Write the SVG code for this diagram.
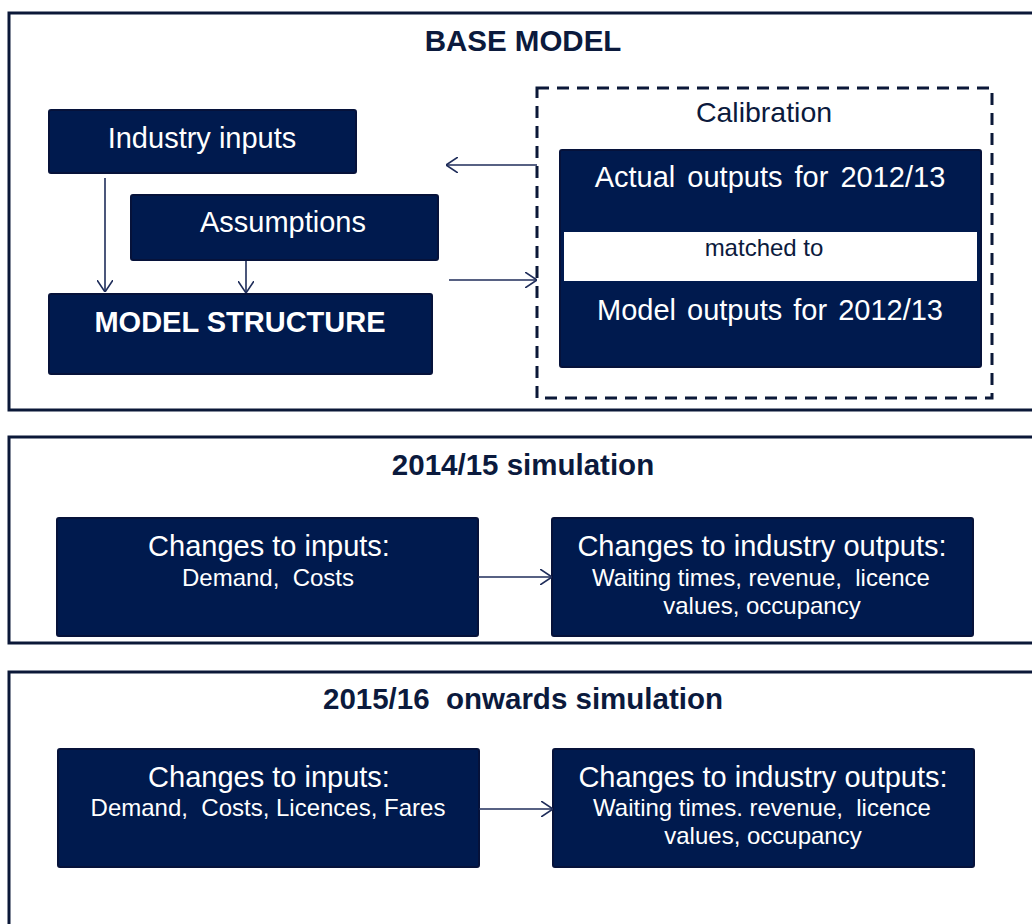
<svg xmlns="http://www.w3.org/2000/svg" width="1032" height="924" viewBox="0 0 1032 924" xml:space="preserve">
<defs>
<style>
.panel{fill:#fff;stroke:#0b1838;stroke-width:3}
.node{fill:#001a4e;stroke:#06123a;stroke-width:2}
.t{font-family:"Liberation Sans",Arial,sans-serif;text-anchor:middle;white-space:pre}
.title{font-size:29.5px;font-weight:bold;fill:#0b1a3d}
.w{fill:#fff;font-size:29px}
.ws{fill:#fff;font-size:24px}
.conn{stroke:#1f2d5a;stroke-width:1.6;fill:none}
</style>
<marker id="arr" viewBox="0 0 12 16" refX="12" refY="8" markerWidth="12" markerHeight="16" markerUnits="userSpaceOnUse" orient="auto">
<path d="M0,0 L12,8 L0,16" fill="none" stroke="#1f2d5a" stroke-width="1.6"/>
</marker>
</defs>
<rect width="1032" height="924" fill="#fff"/>

<g id="panel-base">
<rect class="panel" x="9" y="13" width="1040" height="397"/>
<text class="t title" x="523" y="51">BASE MODEL</text>
</g>
<g id="panel-2014">
<rect class="panel" x="9" y="437" width="1040" height="206"/>
<text class="t title" x="523" y="475">2014/15 simulation</text>
</g>
<g id="panel-2015">
<rect class="panel" x="9" y="672" width="1040" height="270"/>
<text class="t title" x="523" y="709">2015/16  onwards simulation</text>
</g>

<g id="industry-inputs">
<rect class="node" x="49" y="110" width="307" height="63" rx="2"/>
<text class="t w" x="202" y="148">Industry inputs</text>
</g>
<g id="assumptions">
<rect class="node" x="131" y="195" width="307" height="65" rx="2"/>
<text class="t w" x="283" y="232">Assumptions</text>
</g>
<g id="model-structure">
<rect class="node" x="49" y="294" width="383" height="80" rx="2"/>
<text class="t w" x="240" y="332" font-weight="bold">MODEL STRUCTURE</text>
</g>

<g id="calibration">
<rect x="537" y="88" width="455" height="310" fill="none" stroke="#0b1838" stroke-width="3" stroke-dasharray="12 8"/>
<text class="t" x="764" y="122" font-size="28.5" fill="#0b1a3d">Calibration</text>
<rect class="node" x="560" y="150" width="421" height="217" rx="2"/>
<rect x="564" y="232" width="413" height="49" fill="#fff"/>
<text class="t w" x="770" y="187" word-spacing="4">Actual outputs for 2012/13</text>
<text class="t" x="764" y="256" font-size="24" fill="#0b1a3d">matched to</text>
<text class="t w" x="770" y="320" word-spacing="3">Model outputs for 2012/13</text>
</g>

<g id="inputs-2014">
<rect class="node" x="57" y="518" width="421" height="118" rx="2"/>
<text class="t w" x="269" y="556">Changes to inputs:</text>
<text class="t ws" x="268" y="586">Demand,  Costs</text>
</g>
<g id="outputs-2014">
<rect class="node" x="552" y="518" width="421" height="118" rx="2"/>
<text class="t w" x="762" y="556">Changes to industry outputs:</text>
<text class="t ws" x="761" y="586">Waiting times, revenue,  licence</text>
<text class="t ws" x="762" y="614">values, occupancy</text>
</g>
<g id="inputs-2015">
<rect class="node" x="58" y="749" width="421" height="118" rx="2"/>
<text class="t w" x="269" y="787">Changes to inputs:</text>
<text class="t ws" x="268" y="816">Demand,  Costs, Licences, Fares</text>
</g>
<g id="outputs-2015">
<rect class="node" x="553" y="749" width="421" height="118" rx="2"/>
<text class="t w" x="763" y="787">Changes to industry outputs:</text>
<text class="t ws" x="762" y="816">Waiting times. revenue,  licence</text>
<text class="t ws" x="763" y="844">values, occupancy</text>
</g>

<g id="connectors">
<line class="conn" x1="105" y1="178" x2="105" y2="292" marker-end="url(#arr)"/>
<line class="conn" x1="246" y1="261" x2="246" y2="293" marker-end="url(#arr)"/>
<line class="conn" x1="537" y1="165" x2="446" y2="165" marker-end="url(#arr)"/>
<line class="conn" x1="449" y1="280" x2="537" y2="280" marker-end="url(#arr)"/>
<line class="conn" x1="478" y1="577" x2="552" y2="577" marker-end="url(#arr)"/>
<line class="conn" x1="479" y1="809" x2="553" y2="809" marker-end="url(#arr)"/>
</g>
</svg>
